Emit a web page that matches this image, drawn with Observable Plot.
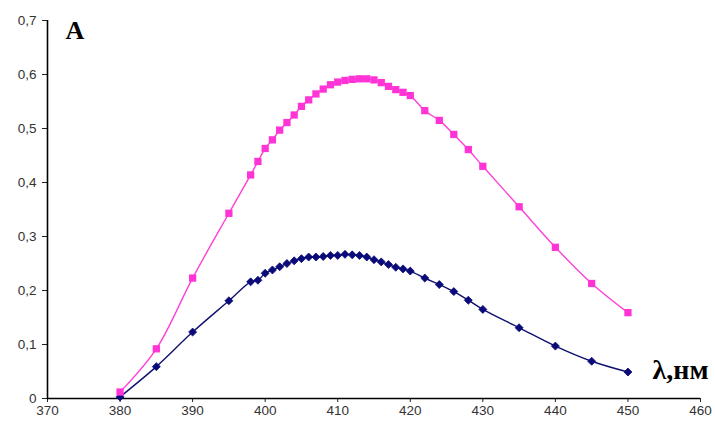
<!DOCTYPE html>
<html>
<head>
<meta charset="utf-8">
<script src="https://cdn.jsdelivr.net/npm/d3@7"></script>
<script src="https://cdn.jsdelivr.net/npm/@observablehq/plot@0.6"></script>
<style>
  html, body { margin: 0; padding: 0; background: #fff; }
  svg { overflow: visible; }
</style>
</head>
<body>
<div id="chart"></div>
<script>
const wavelengths = [380, 385, 390, 395, 398, 399, 400, 401, 402, 403, 404, 405, 406, 407, 408, 409, 410, 411, 412, 413, 414, 415, 416, 417, 418, 419, 420, 422, 424, 426, 428, 430, 435, 440, 445, 450];
const seriesPink = [0.012, 0.092, 0.223, 0.343, 0.414, 0.439, 0.463, 0.479, 0.497, 0.511, 0.525, 0.541, 0.553, 0.564, 0.573, 0.581, 0.586, 0.589, 0.591, 0.592, 0.592, 0.590, 0.585, 0.578, 0.572, 0.567, 0.561, 0.533, 0.515, 0.489, 0.461, 0.430, 0.355, 0.280, 0.213, 0.159];
const seriesBlue = [0.003, 0.059, 0.123, 0.181, 0.216, 0.219, 0.232, 0.238, 0.244, 0.250, 0.255, 0.259, 0.262, 0.262, 0.263, 0.265, 0.265, 0.267, 0.266, 0.265, 0.262, 0.257, 0.253, 0.248, 0.243, 0.240, 0.236, 0.223, 0.211, 0.198, 0.182, 0.165, 0.131, 0.097, 0.069, 0.049];
const xTicks = [370, 380, 390, 400, 410, 420, 430, 440, 450, 460];
const yTicks = [0, 0.1, 0.2, 0.3, 0.4, 0.5, 0.6, 0.7];
const yLabel = "A";
const xLabel = "λ,нм";

const pink = wavelengths.map((w, i) => ({w, a: seriesPink[i]}));
const blue = wavelengths.map((w, i) => ({w, a: seriesBlue[i]}));

const chart = Plot.plot({
  width: 715,
  height: 428,
  marginLeft: 47,
  marginRight: 15,
  marginTop: 20,
  marginBottom: 30,
  style: {fontFamily: "Liberation Sans, Arial, sans-serif", fontSize: "13.5px", color: "#333", background: "#fff"},
  x: {domain: [370, 460]},
  y: {domain: [0, 0.7]},
  marks: [
    Plot.axisX({ticks: xTicks, tickSize: 4, tickPadding: 3, label: null, tickFormat: d => String(d), stroke: "#222"}),
    Plot.axisY({ticks: yTicks, tickSize: 5, tickPadding: 6, label: null, tickFormat: d => d === 0 ? "0" : d.toFixed(1).replace(".", ","), stroke: "#222"}),
    Plot.ruleY([0], {stroke: "#000", strokeWidth: 1.6}),
    Plot.ruleX([370], {stroke: "#000", strokeWidth: 1.6}),
    Plot.line(blue, {x: "w", y: "a", stroke: "#101070", strokeWidth: 1.4, curve: "catmull-rom"}),
    Plot.dot(blue, {x: "w", y: "a", symbol: "diamond2", r: 3.6, fill: "#0a0a78", stroke: "#0a0a78", strokeWidth: 0.8}),
    Plot.line(pink, {x: "w", y: "a", stroke: "#ff40d8", strokeWidth: 1.4, curve: "catmull-rom"}),
    Plot.dot(pink, {x: "w", y: "a", symbol: "square", r: 4.1, fill: "#ff33d6"}),
    Plot.text([yLabel], {frameAnchor: "top-left", text: d => d, textAnchor: "start", lineAnchor: "top", dx: 18, dy: 0, fontSize: 26, fontWeight: "bold", fontFamily: "Liberation Serif, Times New Roman, serif", fill: "#000"}),
    Plot.text([xLabel], {frameAnchor: "bottom-right", text: d => d, textAnchor: "start", lineAnchor: "middle", dx: -48, dy: -28, fontSize: 28, fontWeight: "bold", fontFamily: "Liberation Serif, Times New Roman, serif", fill: "#000"})
  ]
});
document.getElementById("chart").appendChild(chart);
</script>
</body>
</html>
